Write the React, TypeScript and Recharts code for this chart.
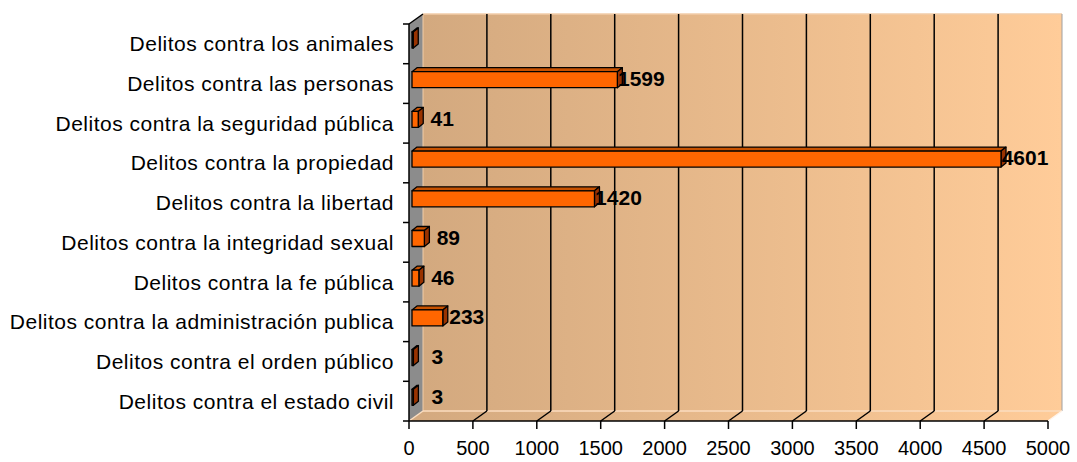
import React from 'react';
import { BarChart, Bar, XAxis, YAxis, ReferenceArea, ReferenceLine, LabelList } from 'recharts';

const categories = [
  'Delitos contra los animales',
  'Delitos contra las personas',
  'Delitos contra la seguridad pública',
  'Delitos contra la propiedad',
  'Delitos contra la libertad',
  'Delitos contra la integridad sexual',
  'Delitos contra la fe pública',
  'Delitos contra la administración publica',
  'Delitos contra el orden público',
  'Delitos contra el estado civil',
];
const values = [2, 1599, 41, 4601, 1420, 89, 46, 233, 3, 3];
const showLabel = [false, true, true, true, true, true, true, true, true, true];
const xTicks = [0, 500, 1000, 1500, 2000, 2500, 3000, 3500, 4000, 4500, 5000];
const gridTicks = [500, 1000, 1500, 2000, 2500, 3000, 3500, 4000, 4500];

const data = categories.map((name, i) => ({ name, value: values[i] }));

const DX = 14;
const DY = 10;
const FONT = '"Liberation Sans", Arial, sans-serif';

function Walls(props: any) {
  const { x, y, width, height } = props;
  const n = categories.length;
  const bottom = y + height;
  const right = x + width;
  const ticks = [];
  for (let i = 0; i <= n; i++) {
    const yy = y + (i * height) / n;
    ticks.push(<line key={i} x1={x - 6} y1={yy} x2={x} y2={yy} stroke="#000" strokeWidth={1.5} />);
  }
  return (
    <g>
      <defs>
        <linearGradient id="wallGrad" x1="0" y1="0" x2="1" y2="0">
          <stop offset="0" stopColor="#D3A97F" />
          <stop offset="1" stopColor="#FFCC99" />
        </linearGradient>
      </defs>
      <rect x={x + DX} y={y - DY} width={width} height={height} fill="url(#wallGrad)" />
      <polygon
        points={`${x},${bottom} ${right},${bottom} ${right + DX},${bottom - DY} ${x + DX},${bottom - DY}`}
        fill="url(#wallGrad)"
      />
      <polygon
        points={`${x},${y} ${x + DX},${y - DY} ${x + DX},${bottom - DY} ${x},${bottom}`}
        fill="#8C8C8C"
      />
      <line x1={x + DX} y1={y - DY} x2={right + DX} y2={y - DY} stroke="#F2CDA8" strokeWidth={1.5} />
      <line x1={x + DX} y1={y - DY} x2={x + DX} y2={bottom - DY} stroke="#F2CDA8" strokeWidth={1} />
      <line x1={right + DX} y1={y - DY} x2={right + DX} y2={bottom - DY} stroke="#A0A0A0" strokeWidth={1} />
      <line x1={x + DX} y1={bottom - DY} x2={right + DX} y2={bottom - DY} stroke="#FBDDBF" strokeWidth={1.5} />
      <line x1={x} y1={bottom} x2={x + DX} y2={bottom - DY} stroke="#FBDDBF" strokeWidth={1.5} />
      <line x1={right} y1={bottom} x2={right + DX} y2={bottom - DY} stroke="#FFF4EA" strokeWidth={1.5} />
      <line x1={x} y1={y} x2={x + DX} y2={y - DY} stroke="#000" strokeWidth={1.5} />
      {ticks}
    </g>
  );
}

function GridLine3D(props: any) {
  const { x1, y1, y2 } = props;
  const top = Math.min(y1, y2);
  const bot = Math.max(y1, y2);
  return (
    <g>
      <line x1={x1 + DX} y1={top - DY} x2={x1 + DX} y2={bot - DY} stroke="#000" strokeWidth={1.5} />
      <line x1={x1} y1={bot} x2={x1 + DX} y2={bot - DY} stroke="#000" strokeWidth={1.5} />
    </g>
  );
}

function Bar3D(props: any) {
  const { x, y, width, height } = props;
  const fx = x + 3;
  const fy = y - 4;
  const fw = Math.max(width, 0) + 1;
  const ex = fx + fw;
  const dx = 5;
  const dy = 4;
  return (
    <g stroke="#000" strokeWidth={1.3} strokeLinejoin="round">
      <polygon points={`${fx},${fy} ${fx + dx},${fy - dy} ${ex + dx},${fy - dy} ${ex},${fy}`} fill="#C85200" />
      <polygon points={`${ex},${fy} ${ex + dx},${fy - dy} ${ex + dx},${fy - dy + height} ${ex},${fy + height}`} fill="#993300" />
      <rect x={fx} y={fy} width={fw} height={height} fill="#FF6600" />
    </g>
  );
}

function ValueLabel(props: any) {
  const { x, y, width, height, value, index } = props;
  if (!showLabel[index]) return null;
  return (
    <text
      x={x + width + 28}
      y={y + height / 2 - 5}
      dy="0.35em"
      textAnchor="middle"
      fontWeight="bold"
      fontSize={21}
      fontFamily={FONT}
      fill="#000"
    >
      {value}
    </text>
  );
}

export default function App() {
  return (
    <div style={{ position: 'absolute', left: 0, top: 0, background: '#fff' }}>
      <BarChart
        width={1077}
        height={462}
        data={data}
        layout="vertical"
        margin={{ top: 24, right: 29, bottom: 11, left: 9 }}
        barCategoryGap={0}
      >
        <XAxis
          type="number"
          domain={[0, 5000]}
          ticks={xTicks}
          allowDataOverflow
          height={30}
          tickSize={8}
          tickMargin={12}
          axisLine={{ stroke: '#000', strokeWidth: 1.5 }}
          tickLine={{ stroke: '#000', strokeWidth: 1.5 }}
          tick={{ fill: '#000', fontSize: 20, fontFamily: FONT }}
          interval={0}
        />
        <YAxis
          type="category"
          dataKey="name"
          width={400}
          tickSize={0}
          tickMargin={15}
          tickLine={false}
          axisLine={{ stroke: '#000', strokeWidth: 1.5 }}
          tick={{ fill: '#000', fontSize: 21, fontFamily: FONT, letterSpacing: 0.5 }}
          interval={0}
        />
        <ReferenceArea x1={0} x2={5000} ifOverflow="visible" shape={(p: any) => <Walls {...p} />} zIndex={-90} />
        {gridTicks.map((t) => (
          <ReferenceLine key={t} x={t} ifOverflow="visible" shape={(p: any) => <GridLine3D {...p} />} zIndex={-80} />
        ))}
        <Bar dataKey="value" barSize={16} isAnimationActive={false} shape={(p: any) => <Bar3D {...p} />}>
          <LabelList dataKey="value" content={(p: any) => <ValueLabel {...p} />} />
        </Bar>
      </BarChart>
    </div>
  );
}
